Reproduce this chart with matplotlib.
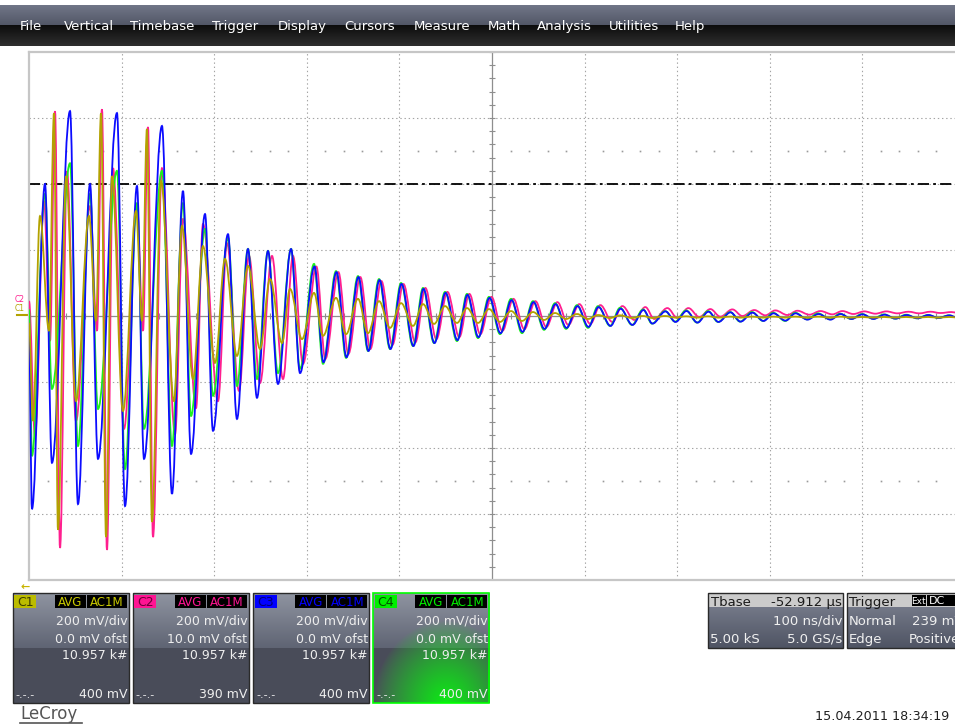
import numpy as np
import matplotlib.pyplot as plt
from matplotlib.path import Path
from matplotlib.patches import PathPatch, Rectangle

plt.rcParams['font.family'] = ['DejaVu Sans']
plt.rcParams['lines.scale_dashes'] = False

# Turning points of the averaged traces: time in ns, level in mV.
# The ringing start is different per channel, the decay is sampled on a common grid.
t_early_c1 = [0.0, 4.3, 11.9, 21.6, 27.0, 31.3, 40.0, 50.8, 64.8, 72.4, 77.8, 83.2, 89.6, 101.5, 115.6, 122.0,
              127.4, 132.8, 142.6, 156.6, 165.2, 177.1, 187.9, 200.9, 211.7, 224.6, 236.5, 249.5, 260.3, 273.2,
              281.9, 294.8]
v_early_c1 = [-21, -318, 303, -45, 615, -648, 424, -258, 303, -15, 615, -670, 424, -288, 318, -15,
              567, -624, 409, -258, 273, -191, 212, -142, 173, -121, 152, -100, 112, -82, 82, -70]

t_early_c2 = [0.0, 6.5, 16.2, 22.7, 28.1, 33.5, 41.0, 50.8, 65.9, 73.4, 78.8, 84.2, 90.7, 102.6, 116.6, 123.1,
              128.5, 133.9, 143.6, 157.7, 166.3, 180.4, 187.9, 204.1, 213.8, 226.8, 237.6, 249.5, 262.4, 274.3,
              285.1, 295.9]
v_early_c2 = [45, -364, 348, -76, 621, -703, 439, -318, 333, -45, 627, -709, 448, -342, 333, -45,
              573, -670, 448, -358, 294, -279, 279, -258, 221, -227, 182, -203, 182, -191, 182, -145]

t_early_c34 = [0.0, 3.2, 17.3, 24.8, 44.3, 52.9, 65.9, 74.5, 95.0, 103.7, 116.6, 124.2, 143.6, 154.4, 166.3,
               175.0, 190.1, 198.7, 214.9, 224.6, 236.5, 246.2, 258.1, 268.9, 283.0, 292.7]
v_early_c3 = [-45, -585, 400, -445, 621, -570, 400, -433, 615, -576, 394, -433, 576, -539, 379,
              -418, 309, -348, 248, -312, 203, -248, 197, -206, 203, -173]
v_early_c4 = [20, -424, 370, -221, 463, -394, 370, -282, 440, -464, 342, -342, 440, -394, 342,
              -303, 264, -242, 236, -212, 203, -191, 197, -173, 203, -160]

t_late = [307.8, 317.5, 331.6, 342.4, 355.3, 366.1, 378.0, 389.9, 401.8, 414.7,
          425.5, 437.4, 449.3, 462.2, 473.0, 484.9, 496.8, 508.7, 520.6, 532.4,
          544.3, 556.2, 568.1, 580.0, 591.8, 603.7, 614.5, 627.5, 638.3, 651.2,
          663.1, 672.8, 686.9, 697.7, 709.6, 721.4, 733.3, 744.1, 757.1, 767.9,
          780.8, 792.7, 803.5, 816.5, 827.3, 840.2, 852.1, 865.1, 875.9, 887.8,
          899.6, 911.5, 923.4, 935.3, 947.2, 959.0, 970.9, 981.7, 993.6, 1000.0]
v_late_c1 = [70, -60, 55, -55, 52, -52, 45, -36, 39, -30,
             36, -24, 30, -21, 24, -21, 21, -18, 15, -15,
             12, -12, 9, -9, 6, -9, 3, -6, 2, -6,
             0, -6, 0, -5, -1, -5, -1, -5, -2, -5,
             -2, -5, -2, -5, -2, -5, -2, -5, -2, -5,
             -3, -5, -3, -5, -3, -5, -3, -5, -3, -4]
v_late_c2 = [150, -130, 133, -115, 118, -100, 106, -88, 97, -80,
             85, -70, 73, -64, 67, -55, 58, -45, 52, -40,
             45, -33, 42, -27, 36, -24, 33, -18, 30, -12,
             27, -9, 24, -6, 24, -3, 21, -2, 20, 0,
             18, 2, 17, 3, 16, 4, 15, 5, 15, 6,
             14, 7, 14, 8, 13, 8, 13, 9, 12, 10]
v_late_c3 = [150, -140, 133, -125, 118, -106, 109, -100, 97, -91,
             82, -82, 70, -73, 64, -64, 55, -52, 48, -48,
             42, -39, 36, -36, 30, -33, 27, -30, 22, -27,
             18, -23, 14, -18, 15, -20, 13, -18, 11, -17,
             10, -15, 8, -14, 8, -11, 6, -11, 6, -9,
             5, -9, 4, -8, 3, -7, 3, -6, 2, -3]
v_late_c4 = [158, -145, 136, -127, 121, -106, 112, -100, 100, -91,
             85, -82, 73, -76, 67, -67, 58, -55, 52, -52,
             45, -42, 39, -39, 33, -36, 30, -30, 25, -27,
             20, -23, 15, -17, 17, -20, 15, -18, 12, -17,
             12, -15, 10, -15, 10, -10, 8, -10, 7, -9,
             6, -8, 5, -8, 4, -7, 3, -6, 2, -3]

# per-channel timing skew of the decay part (ns)
skew_ns = {'C1': 0.0, 'C2': 2.5, 'C3': 0.5, 'C4': 0.0}

trigger_level_mv = 400
ns_per_div = 100
mv_per_div = 200

channels = ['C1', 'C2', 'C3', 'C4']
ch_scale = ['200 mV/div', '200 mV/div', '200 mV/div', '200 mV/div']
ch_offset = ['0.0 mV ofst', '10.0 mV ofst', '0.0 mV ofst', '0.0 mV ofst']
ch_sweeps = ['10.957 k#', '10.957 k#', '10.957 k#', '10.957 k#']
ch_level = ['400 mV', '390 mV', '400 mV', '400 mV']

menu_items = ['File', 'Vertical', 'Timebase', 'Trigger', 'Display', 'Cursors',
              'Measure', 'Math', 'Analysis', 'Utilities', 'Help']

trace_colors = {'C1': '#b3a200', 'C2': '#ff1f8f', 'C3': '#0c0cff', 'C4': '#1ef01e'}
tag_colors = {'C1': ('#bcbc00', '#3c3c00', '#caca00'),
              'C2': ('#ff1493', '#6a0035', '#ff1493'),
              'C3': ('#0000ff', '#000070', '#0000ff'),
              'C4': ('#00ee00', '#004c00', '#00ee00')}


def turning_path(t, v):
    # smooth curve through the turning points, flat at each extremum
    verts = [(t[0], v[0])]
    codes = [Path.MOVETO]
    for i in range(1, len(t)):
        h = 0.36 * (t[i] - t[i - 1])
        verts += [(t[i - 1] + h, v[i - 1]), (t[i] - h, v[i]), (t[i], v[i])]
        codes += [Path.CURVE4] * 3
    return Path(verts, codes)


def box_image(w, h, split, glow=False):
    yy, xx = np.mgrid[0:h, 0:w]
    f = np.clip(yy / split, 0, 1)[..., None]
    upper = (1 - f) * np.array([0.56, 0.58, 0.63]) + f * np.array([0.37, 0.39, 0.45])
    lower = np.ones((h, w, 1)) * np.array([0.29, 0.30, 0.35])
    img = np.where((yy < split)[..., None], upper, lower)
    if glow:
        d = np.sqrt(((xx - 0.62 * w) / (0.62 * w)) ** 2 + ((yy - h) / (0.75 * h)) ** 2)
        g = np.clip(1 - d, 0, 1)[..., None] ** 0.8
        img = img * (1 - g) + np.array([0.05, 0.92, 0.08]) * g
    return img


fig = plt.figure(figsize=(9.55, 7.24), dpi=100)
fig.patch.set_facecolor('white')

# screen furniture, drawn in pixel units
ui = fig.add_axes([0, 0, 1, 1])
ui.axis('off')

# menu bar
yy = np.arange(41)[:, None, None]
top_part = np.array([0.44, 0.46, 0.53]) + (np.array([0.32, 0.34, 0.40]) - np.array([0.44, 0.46, 0.53])) * (yy / 20)
low_part = np.array([0.05, 0.05, 0.05]) + (np.array([0.19, 0.19, 0.19]) - np.array([0.05, 0.05, 0.05])) * ((yy - 20) / 21)
bar = np.where(yy < 20, top_part, low_part)
ui.imshow(bar, extent=(0, 955, 46, 5), aspect='auto', interpolation='bilinear')
menu_x = [20, 64, 130, 212, 278, 344, 414, 488, 537, 609, 675]
for item, x in zip(menu_items, menu_x):
    ui.text(x, 30, item, color='white', fontsize=9.5, va='baseline', ha='left')

# channel descriptor boxes
box_left = [12.7, 132.7, 253.3, 373.3]
bw, bh, btop = 116, 110, 593
for i, ch in enumerate(channels):
    x0 = box_left[i]
    sel = ch == 'C4'
    ui.imshow(box_image(bw, bh, 55, glow=sel), extent=(x0, x0 + bw, btop + bh, btop),
              aspect='auto', interpolation='bilinear')
    ui.add_patch(Rectangle((x0, btop), bw, bh, fill=False,
                           ec='#00ff00' if sel else '#2a2a2a', lw=1.2 if sel else 1.0))
    bg, fg, tx = tag_colors[ch]
    ui.add_patch(Rectangle((x0 + 1.5, btop + 2), 22, 13, fc=bg, ec='none'))
    ui.text(x0 + 12.5, btop + 13, ch, color=fg, fontsize=9, ha='center', va='baseline')
    ui.add_patch(Rectangle((x0 + 42, btop + 2), 31, 13, fc='black', ec='none'))
    ui.add_patch(Rectangle((x0 + 74, btop + 2), 40, 13, fc='black', ec='none'))
    ui.text(x0 + 57.5, btop + 13, 'AVG', color=tx, fontsize=8.5, ha='center', va='baseline')
    ui.text(x0 + 94, btop + 13, 'AC1M', color=tx, fontsize=8.5, ha='center', va='baseline')
    xr = x0 + 114.5
    ui.text(xr, 625, ch_scale[i], color='#eeeeee', fontsize=9, ha='right', va='baseline')
    ui.text(xr, 643, ch_offset[i], color='#eeeeee', fontsize=9, ha='right', va='baseline')
    ui.text(xr, 659, ch_sweeps[i], color='#eeeeee', fontsize=9, ha='right', va='baseline')
    ui.text(x0 + 3, 698, '-.-.-', color='#eeeeee', fontsize=8, ha='left', va='baseline')
    ui.text(xr, 698, ch_level[i], color='#eeeeee', fontsize=9, ha='right', va='baseline')

# timebase and trigger boxes (the trigger box runs off the right edge of the screen)
for x0, w in [(708, 135), (847, 120)]:
    ui.add_patch(Rectangle((x0, 593), w, 14, fc='#cbcbcb', ec='none'))
    gy = np.arange(41)[:, None, None] / 40
    grad = np.array([0.45, 0.47, 0.53]) * (1 - gy) + np.array([0.31, 0.33, 0.39]) * gy
    ui.imshow(grad, extent=(x0, x0 + w, 648, 607), aspect='auto', interpolation='bilinear')
    ui.add_patch(Rectangle((x0, 593), w, 55, fill=False, ec='#2a2a2a', lw=1.0))
ui.text(711, 606, 'Tbase', color='#1a1a1a', fontsize=9.5, va='baseline')
ui.text(842, 606, '-52.912 µs', color='#1a1a1a', fontsize=9.5, ha='right', va='baseline')
ui.text(842, 625, '100 ns/div', color='#f0f0f0', fontsize=9.5, ha='right', va='baseline')
ui.text(710, 643, '5.00 kS', color='#f0f0f0', fontsize=9.5, va='baseline')
ui.text(842, 643, '5.0 GS/s', color='#f0f0f0', fontsize=9.5, ha='right', va='baseline')
ui.text(849, 606, 'Trigger', color='#1a1a1a', fontsize=9.5, va='baseline')
ui.add_patch(Rectangle((911.5, 595), 14.5, 11, fc='black', ec='none'))
ui.add_patch(Rectangle((927, 595), 30, 11, fc='black', ec='none'))
ui.text(918.7, 604, 'Ext', color='white', fontsize=6.5, ha='center', va='baseline')
ui.text(929, 604.5, 'DC', color='white', fontsize=8, ha='left', va='baseline')
ui.text(849, 625, 'Normal', color='#f0f0f0', fontsize=9.5, va='baseline')
ui.text(912, 625, '239 mV', color='#f0f0f0', fontsize=9.5, va='baseline')
ui.text(849, 643, 'Edge', color='#f0f0f0', fontsize=9.5, va='baseline')
ui.text(909, 643, 'Positive', color='#f0f0f0', fontsize=9.5, va='baseline')

# footer
ui.text(20, 719, 'LeCroy', color='#555555', fontsize=12, va='baseline')
ui.plot([20, 82], [722.5, 722.5], color='#555555', lw=1.2)
ui.text(949, 720, '15.04.2011 18:34:19', color='#202020', fontsize=9.2, ha='right', va='baseline')

# left-hand trace markers and time-origin arrow
ui.text(20, 302, 'C2', color=trace_colors['C2'], fontsize=5.5, ha='center', va='baseline')
ui.text(20, 311, 'C1', color=trace_colors['C1'], fontsize=5.5, ha='center', va='baseline')
ui.plot([17, 28], [315, 315], color=trace_colors['C1'], lw=1.5)
ui.text(25, 590, '←', color='#c8b400', fontsize=8, ha='center', va='baseline', fontweight='bold')

ui.set_xlim(0, 955)
ui.set_ylim(724, 0)

# scope grid
ax = fig.add_axes([29 / 955, 144 / 724, 926 / 955, 528 / 724])
ax.set_facecolor('white')
ax.set_xlim(0, 10 * ns_per_div)
ax.set_ylim(-4 * mv_per_div, 4 * mv_per_div)
ax.set_xticks([])
ax.set_yticks([])
for s in ['left', 'top', 'bottom']:
    ax.spines[s].set_color('#c6c6c6')
    ax.spines[s].set_linewidth(1.6)
ax.spines['right'].set_visible(False)

grid_kw = dict(color='#a4a4a4', lw=0.8, ls=(0, (1, 2)), zorder=1)
for k in range(1, 10):
    if k != 5:
        ax.axvline(k * ns_per_div, **grid_kw)
for k in [-3, -2, -1, 1, 2, 3]:
    ax.axhline(k * mv_per_div, **grid_kw)
ax.axhline(0, color='#8e8e8e', lw=0.9, zorder=1)
ax.axvline(5 * ns_per_div, color='#8e8e8e', lw=0.9, zorder=1)
minor_t = np.arange(0, 10 * ns_per_div + 1, ns_per_div / 5)
minor_v = np.arange(-4 * mv_per_div, 4 * mv_per_div + 1, mv_per_div / 5)
ax.plot(minor_t, np.zeros_like(minor_t), ls='', marker='|', ms=4, mew=0.8, color='#8e8e8e', zorder=1)
ax.plot(np.full_like(minor_v, 5 * ns_per_div), minor_v, ls='', marker='_', ms=5, mew=0.8,
        color='#8e8e8e', zorder=1)
dot_t = [x for x in minor_t if x % ns_per_div]
for row in [2.5 * mv_per_div, -2.5 * mv_per_div]:
    ax.plot(dot_t, [row] * len(dot_t), ls='', marker='s', ms=1.2, mew=0, color='#9a9a9a', zorder=1)

ax.axhline(trigger_level_mv, color='black', lw=1.3, ls=(0, (8, 3, 2, 3)), zorder=2)

# traces
early = {'C1': (t_early_c1, v_early_c1), 'C2': (t_early_c2, v_early_c2),
         'C3': (t_early_c34, v_early_c3), 'C4': (t_early_c34, v_early_c4)}
late = {'C1': v_late_c1, 'C2': v_late_c2, 'C3': v_late_c3, 'C4': v_late_c4}
for z, ch in enumerate(['C2', 'C4', 'C3', 'C1']):
    t0, v0 = early[ch]
    t = list(t0) + [x + skew_ns[ch] for x in t_late]
    v = list(v0) + list(late[ch])
    ax.add_patch(PathPatch(turning_path(t, v), fill=False, ec=trace_colors[ch], lw=1.3, zorder=3 + z))

fig.savefig('out.png', dpi=100)
